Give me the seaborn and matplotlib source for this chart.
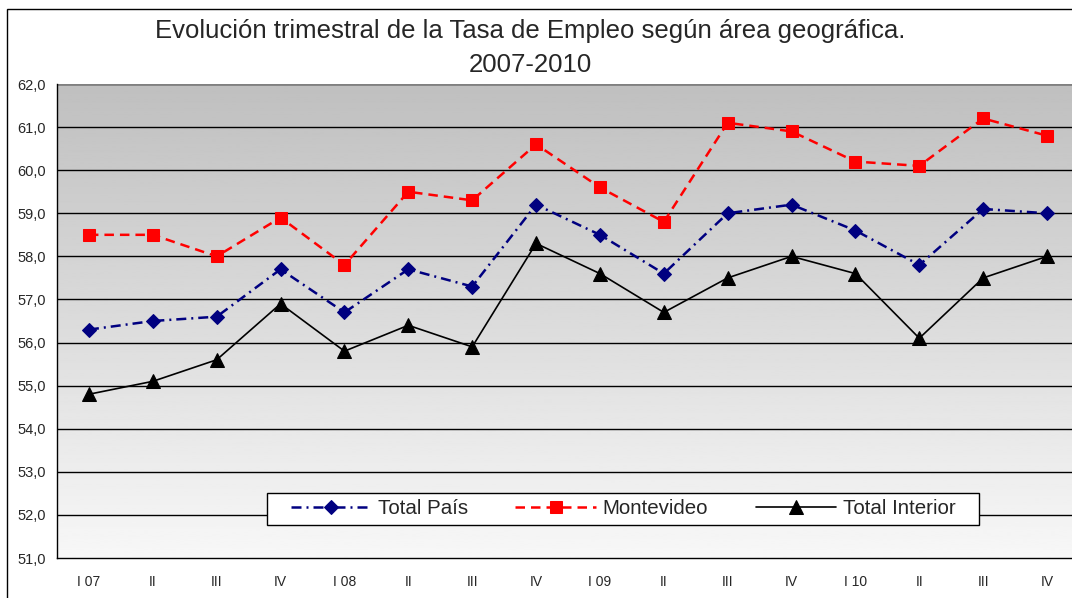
import numpy as np
import pandas as pd
import matplotlib
matplotlib.use('Agg')
import matplotlib.pyplot as plt
import matplotlib.patches as mpatches
import seaborn as sns

quarters = ['I 07', 'II', 'III', 'IV', 'I 08', 'II', 'III', 'IV',
            'I 09', 'II', 'III', 'IV', 'I 10', 'II', 'III', 'IV']
total_pais = [56.3, 56.5, 56.6, 57.7, 56.7, 57.7, 57.3, 59.2,
              58.5, 57.6, 59.0, 59.2, 58.6, 57.8, 59.1, 59.0]
montevideo = [58.5, 58.5, 58.0, 58.9, 57.8, 59.5, 59.3, 60.6,
              59.6, 58.8, 61.1, 60.9, 60.2, 60.1, 61.2, 60.8]
total_interior = [54.8, 55.1, 55.6, 56.9, 55.8, 56.4, 55.9, 58.3,
                  57.6, 56.7, 57.5, 58.0, 57.6, 56.1, 57.5, 58.0]

title_line1 = 'Evolución trimestral de la Tasa de Empleo según área geográfica.'
title_line2 = '2007-2010'

sns.set_style('white')
plt.rcParams['font.family'] = ['Liberation Sans', 'DejaVu Sans']

fig = plt.figure(figsize=(10.72, 5.98), dpi=100)
ax = fig.add_axes([57 / 1072, 40 / 598, 1022 / 1072, 474 / 598])

pos = np.arange(len(quarters))

# gray gradient background, darker at the top
grad = np.linspace(0.97, 0.75, 256).reshape(-1, 1)
ax.imshow(grad, extent=[-0.5, len(quarters) - 0.5, 51, 62], aspect='auto',
          cmap='gray', vmin=0, vmax=1, origin='lower', zorder=0)

for yv in range(52, 62):
    ax.axhline(yv, color='black', lw=1, zorder=1)
ax.axhline(62, color='#808080', lw=2, zorder=1)

sns.lineplot(x=pos, y=total_pais, ax=ax, color='#000080', lw=1.8,
             linestyle=(0, (4, 2, 0.8, 2)), marker='D', markersize=7.3,
             markeredgecolor='#000080', label='Total País', zorder=3)
sns.lineplot(x=pos, y=montevideo, ax=ax, color='#ff0000', lw=1.8,
             linestyle=(0, (3.8, 2.4)), marker='s', markersize=8.5,
             markeredgecolor='#ff0000', label='Montevideo', zorder=3)
sns.lineplot(x=pos, y=total_interior, ax=ax, color='black', lw=1.2,
             marker='^', markersize=10, markeredgecolor='black',
             label='Total Interior', zorder=3)

ax.set_xlim(-0.5, len(quarters) - 0.5)
ax.set_ylim(51, 62)
ax.set_yticks(range(51, 63))
ax.set_yticklabels(['{:.1f}'.format(v).replace('.', ',') for v in range(51, 63)],
                   fontsize=10.5)
ax.set_xticks(np.arange(-0.5, len(quarters), 1.0), minor=True)
ax.set_xticks(pos)
ax.set_xticklabels(quarters, fontsize=10)
ax.tick_params(axis='x', which='major', length=0, pad=12)
ax.tick_params(axis='x', which='minor', length=4, color='black', direction='out')
ax.tick_params(axis='y', length=4, color='black', direction='out', pad=4)
ax.grid(False)

for side in ['top', 'right']:
    ax.spines[side].set_visible(False)
for side in ['left', 'bottom']:
    ax.spines[side].set_color('black')
    ax.spines[side].set_linewidth(1)

ax.set_xlabel('')
ax.set_ylabel('')

# white legend box, wider than matplotlib's own frame
legend_box = mpatches.Rectangle((0.2055, 0.0696), 0.6967, 0.0675,
                                transform=ax.transAxes, facecolor='white',
                                edgecolor='black', lw=1, zorder=4)
ax.add_patch(legend_box)
leg = ax.legend(loc='center', bbox_to_anchor=(0.554, 0.1034), ncol=3,
                fontsize=14.8, frameon=False, handlelength=3.9,
                handletextpad=0.35, columnspacing=2.3, borderpad=0.25,
                borderaxespad=0)
leg.set_zorder(5)

fig.text(530 / 1072, 1 - 31 / 598, title_line1, ha='center', va='center', fontsize=18.5)
fig.text(530 / 1072, 1 - 65 / 598, title_line2, ha='center', va='center', fontsize=18.5)

border = mpatches.Rectangle((7 / 1072, -0.05), 1.1, 1 - 9 / 598 + 0.05,
                            transform=fig.transFigure, fill=False,
                            edgecolor='black', lw=1, zorder=0)
fig.patches.append(border)

fig.savefig('out.png', dpi=100)
